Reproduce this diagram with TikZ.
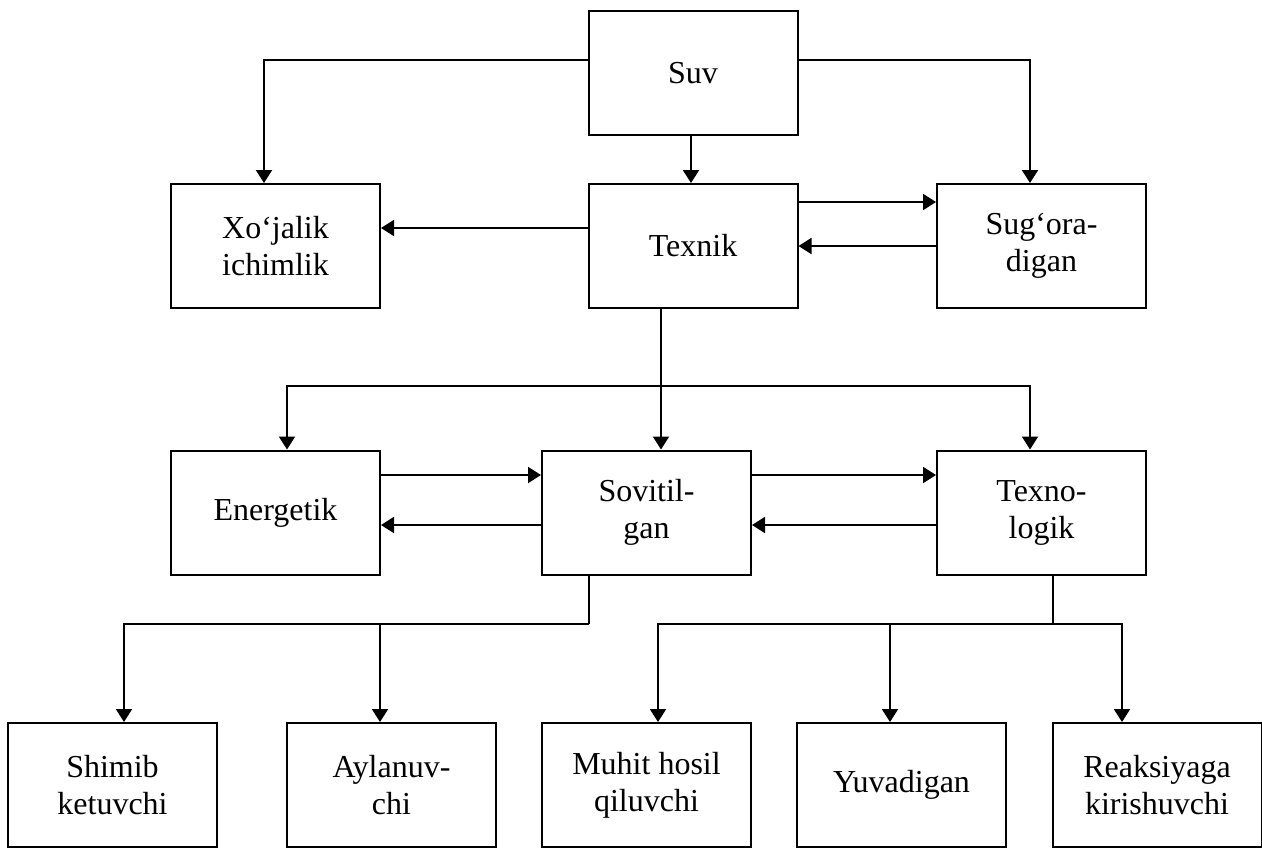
\documentclass[tikz,border=0pt]{standalone}
\usepackage{fontspec}
\setmainfont{Liberation Serif}
\usetikzlibrary{arrows.meta}
\begin{document}
\begin{tikzpicture}[x=0.5pt, y=-0.5pt]
  \fontsize{16}{18.5}\selectfont
  \tikzstyle{box}=[draw, line width=1pt, minimum width=104.5pt, minimum height=62pt, align=center, inner sep=0pt]
  \tikzstyle{leaf}=[box]
  \tikzstyle{arrow}=[line width=1pt, -{Triangle[length=6.5pt, width=8pt]}]
  \tikzstyle{link}=[line width=1pt]
  \useasboundingbox (0,0) rectangle (1262,848);

  \node[box] (suv)         at (693,    73)    {Suv};
  \node[box] (xojalik)     at (275.5,  246)   {Xo‘jalik\\ichimlik};
  \node[box] (texnik)      at (693,    246)   {Texnik};
  \node[box] (sugoradigan) at (1041.5, 246)   {Sug‘ora-\\digan};
  \node[box] (energetik)   at (275.5,  512.5) {Energetik};
  \node[box] (sovitilgan)  at (646.5,  512.5) {Sovitil-\\gan};
  \node[box] (texnologik)  at (1041.5, 512.5) {Texno-\\logik};
  \node[leaf] (shimib)     at (112.5,  785)   {Shimib\\ketuvchi};
  \node[leaf] (aylanuvchi) at (391.5,  785)   {Aylanuv-\\chi};
  \node[leaf] (muhit)      at (646.5,  785)   {Muhit hosil\\qiluvchi};
  \node[leaf] (yuvadigan)  at (901.5,  785)   {Yuvadigan};
  \node[leaf] (reaksiya)   at (1157,   785)   {Reaksiyaga\\kirishuvchi};

  \draw[arrow] ([yshift=6.5pt]suv.west) -| ([xshift=-5.75pt]xojalik.north);
  \draw[arrow] ([xshift=-1pt]suv.south) -- ([xshift=-1pt]texnik.north);
  \draw[arrow] ([yshift=6.5pt]suv.east) -| ([xshift=-5.75pt]sugoradigan.north);
  \draw[arrow] ([yshift=9pt]texnik.west) -- ([yshift=9pt]xojalik.east);
  \draw[arrow] ([yshift=22pt]texnik.east) -- ([yshift=22pt]sugoradigan.west);
  \draw[arrow] (sugoradigan.west) -- (texnik.east);

  \coordinate (bus1) at (661, 386);
  \draw[arrow] ([xshift=-16pt]texnik.south) -- ([xshift=7.25pt]sovitilgan.north);
  \draw[arrow] (bus1) -| ([xshift=5.75pt]energetik.north);
  \draw[arrow] (bus1) -| ([xshift=-5.75pt]texnologik.north);

  \draw[arrow] ([yshift=18.75pt]energetik.east) -- ([yshift=18.75pt]sovitilgan.west);
  \draw[arrow] ([yshift=-6.25pt]sovitilgan.west) -- ([yshift=-6.25pt]energetik.east);
  \draw[arrow] ([yshift=18.75pt]sovitilgan.east) -- ([yshift=18.75pt]texnologik.west);
  \draw[arrow] ([yshift=-6.25pt]texnologik.west) -- ([yshift=-6.25pt]sovitilgan.east);

  \coordinate (bus2) at (589, 624);
  \draw[link] ([xshift=-28.75pt]sovitilgan.south) -- (bus2);
  \draw[arrow] (bus2) -| ([xshift=5.75pt]shimib.north);
  \draw[arrow] (bus2) -| ([xshift=-5.75pt]aylanuvchi.north);

  \coordinate (bus3) at (1053, 624);
  \draw[link] ([xshift=5.75pt]texnologik.south) -- (bus3);
  \draw[arrow] (bus3) -| ([xshift=5.75pt]muhit.north);
  \draw[arrow] (bus3) -| ([xshift=-5.75pt]yuvadigan.north);
  \draw[arrow] (bus3) -| ([xshift=-17.5pt]reaksiya.north);
\end{tikzpicture}
\end{document}
